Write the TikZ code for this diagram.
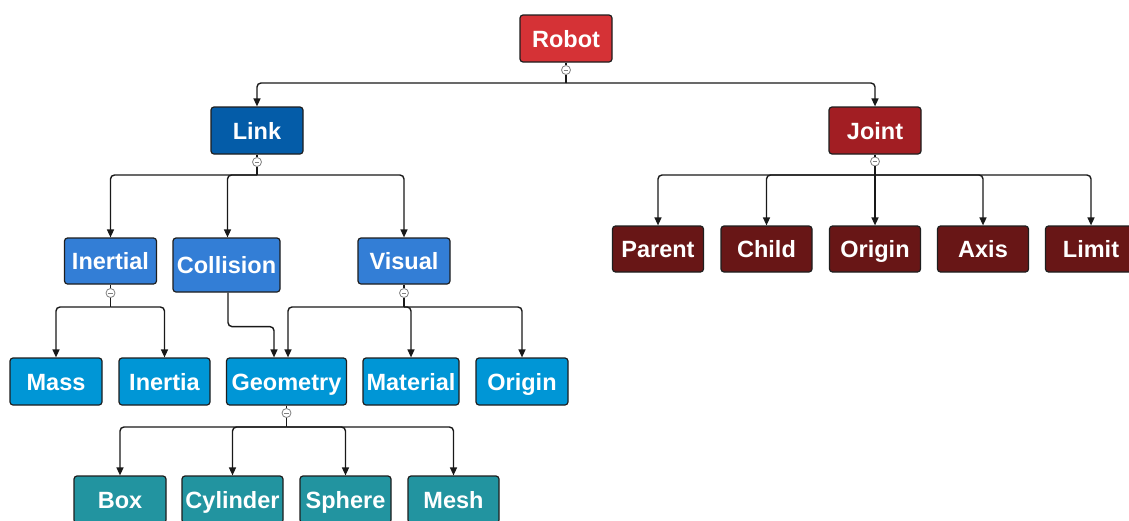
\documentclass[tikz,border=0pt]{standalone}
\usepackage{fontspec}
\setmainfont{Liberation Sans}
\usetikzlibrary{arrows.meta}
\definecolor{cRobot}{RGB}{213,50,54}
\definecolor{cLink}{RGB}{4,92,168}
\definecolor{cJoint}{RGB}{162,30,35}
\definecolor{cJch}{RGB}{104,22,22}
\definecolor{cMid}{RGB}{51,126,214}
\definecolor{cLeaf}{RGB}{0,150,214}
\definecolor{cGeo}{RGB}{34,148,160}
\definecolor{boxline}{RGB}{30,30,30}
\tikzset{
  box/.style={draw=boxline, line width=1.2pt, rounded corners=3pt, text=white,
    font=\fontsize{23.5}{28}\selectfont\bfseries, minimum height=47pt, minimum width=92pt,
    inner sep=0pt, text height=17pt, text depth=0pt},
  conn/.style={line width=1.4pt, draw=black!90},
  arr/.style={conn, -{Triangle[length=8pt,width=7pt]}, rounded corners=4pt},
  toggle/.style={circle, draw=gray, fill=white, line width=0.8pt, minimum size=9pt, inner sep=0pt,
    path picture={\draw[gray, line width=0.8pt] ([xshift=-2.4pt]path picture bounding box.center) -- ([xshift=2.4pt]path picture bounding box.center);}}
}
\begin{document}
\begin{tikzpicture}[x=1pt,y=-1pt]
\useasboundingbox (0,0) rectangle (1129,520);
\fill[white] (0,0) rectangle (1129,520);
% nodes
\node[box, fill=cRobot] (Robot) at (566,38.5) {Robot};
\node[box, fill=cLink] (Link) at (257,130.5) {Link};
\node[box, fill=cJoint] (Joint) at (875,130.5) {Joint};
\node[box, fill=cMid, minimum height=46pt] (Inertial) at (110.5,261) {Inertial};
\node[box, fill=cMid, minimum width=107pt, minimum height=54pt] (Collision) at (226.5,265) {Collision};
\node[box, fill=cMid, minimum height=46pt] (Visual) at (404,261) {Visual};
\node[box, fill=cLeaf] (Mass) at (56,381.5) {Mass};
\node[box, fill=cLeaf, minimum width=91pt] (Inertia) at (164.5,381.5) {Inertia};
\node[box, fill=cLeaf, minimum width=120pt] (Geometry) at (286.5,381.5) {Geometry};
\node[box, fill=cLeaf, minimum width=96pt] (Material) at (411,381.5) {Material};
\node[box, fill=cLeaf] (VOrigin) at (522,381.5) {Origin};
\node[box, fill=cGeo] (Box) at (120,499.5) {Box};
\node[box, fill=cGeo, minimum width=101pt] (Cylinder) at (232.5,499.5) {Cylinder};
\node[box, fill=cGeo, minimum width=91pt] (Sphere) at (345.5,499.5) {Sphere};
\node[box, fill=cGeo, minimum width=91pt] (Mesh) at (453.5,499.5) {Mesh};
\node[box, fill=cJch, minimum width=91pt, minimum height=46pt] (Parent) at (658,249) {Parent};
\node[box, fill=cJch, minimum width=91pt, minimum height=46pt] (Child) at (766.5,249) {Child};
\node[box, fill=cJch, minimum width=91pt, minimum height=46pt] (JOrigin) at (875,249) {Origin};
\node[box, fill=cJch, minimum width=91pt, minimum height=46pt] (Axis) at (983,249) {Axis};
\node[box, fill=cJch, minimum width=91pt, minimum height=46pt] (Limit) at (1091,249) {Limit};
% bus points
\coordinate (bR) at (566,83);
\coordinate (bL) at (257,175);
\coordinate (bJ) at (875,175);
\coordinate (bI) at (110.5,307);
\coordinate (bV) at (404,307);
\coordinate (bG) at (286.5,427);
% toggles
\node[toggle] (cR) at (566,70) {};
\node[toggle] (cL) at (257,162) {};
\node[toggle] (cJ) at (875,161.5) {};
\node[toggle] (cI) at (110.5,293) {};
\node[toggle] (cV) at (404,293) {};
\node[toggle] (cG) at (286.5,413) {};
% Robot
\draw[conn] (Robot.south) -- (cR.north);
\draw[conn] (cR.south) -- (bR);
\draw[arr] (bR) -| (Link.north);
\draw[arr] (bR) -| (Joint.north);
% Link
\draw[conn] (Link.south) -- (cL.north);
\draw[conn] (cL.south) -- (bL);
\draw[arr] (bL) -| (Inertial.north);
\draw[arr] (bL) -| ([xshift=1pt]Collision.north);
\draw[arr] (bL) -| (Visual.north);
% Joint
\draw[conn] (Joint.south) -- (cJ.north);
\draw[arr] (cJ.south) -- (JOrigin.north);
\draw[arr] (bJ) -| (Parent.north);
\draw[arr] (bJ) -| (Child.north);
\draw[arr] (bJ) -| (Axis.north);
\draw[arr] (bJ) -| (Limit.north);
% Inertial
\draw[conn] (Inertial.south) -- (cI.north);
\draw[conn] (cI.south) -- (bI);
\draw[arr] (bI) -| (Mass.north);
\draw[arr] (bI) -| (Inertia.north);
% Collision
\draw[arr] ([xshift=1.5pt]Collision.south) -- ++(0,34) -| ([xshift=-12.5pt]Geometry.north);
% Visual
\draw[conn] (Visual.south) -- (cV.north);
\draw[conn] (cV.south) -- (bV);
\draw[arr] (bV) -| ([xshift=1.5pt]Geometry.north);
\draw[arr] (bV) -| (Material.north);
\draw[arr] (bV) -| (VOrigin.north);
% Geometry
\draw[conn] (Geometry.south) -- (cG.north);
\draw[conn] (cG.south) -- (bG);
\draw[arr] (bG) -| (Box.north);
\draw[arr] (bG) -| (Cylinder.north);
\draw[arr] (bG) -| (Sphere.north);
\draw[arr] (bG) -| (Mesh.north);
\end{tikzpicture}
\end{document}
